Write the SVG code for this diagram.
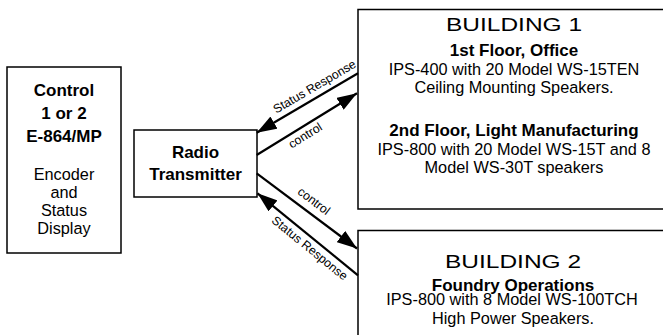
<svg xmlns="http://www.w3.org/2000/svg" width="663" height="335" viewBox="0 0 663 335">
<style>
.box{fill:#fff;stroke:#000;stroke-width:1.5}
.t{font-family:"Liberation Sans",Arial,sans-serif;fill:#000;text-anchor:middle}
.b{font-weight:bold;font-size:17px}
.r{font-size:16.3px}
.h{font-size:18.5px}
.lbl{font-family:"Liberation Sans",Arial,sans-serif;font-size:12.3px;fill:#000;text-anchor:middle}
.ln{stroke:#000;stroke-width:2.2;fill:none;marker-end:url(#ah)}
</style>
<defs>
<marker id="ah" markerUnits="userSpaceOnUse" markerWidth="20" markerHeight="14" refX="20" refY="7" orient="auto">
<path d="M0,0 L20,7 L0,14 z" fill="#000"/>
</marker>
</defs>
<rect width="663" height="335" fill="#fff"/>
<g id="control">
<rect class="box" x="7" y="67" width="114" height="186"/>
<text class="t b" x="64" y="95.5">Control</text>
<text class="t b" x="64" y="118.5">1 or 2</text>
<text class="t b" x="64" y="141.5">E-864/MP</text>
<text class="t r" x="64" y="180">Encoder</text>
<text class="t r" x="64" y="198">and</text>
<text class="t r" x="64" y="216">Status</text>
<text class="t r" x="64" y="234">Display</text>
</g>
<g id="radio">
<rect class="box" x="134" y="130" width="123" height="67"/>
<text class="t b" x="195.5" y="158">Radio</text>
<text class="t b" x="195.5" y="180">Transmitter</text>
</g>
<g id="building1">
<rect class="box" x="358" y="9.5" width="320" height="199.5"/>
<text class="t h" x="514" y="31" textLength="136" lengthAdjust="spacingAndGlyphs">BUILDING 1</text>
<text class="t b" x="514" y="56">1st Floor, Office</text>
<text class="t r" x="514" y="75">IPS-400 with 20 Model WS-15TEN</text>
<text class="t r" x="514" y="93">Ceiling Mounting Speakers.</text>
<text class="t b" x="514" y="136">2nd Floor, Light Manufacturing</text>
<text class="t r" x="514" y="155">IPS-800 with 20 Model WS-15T and 8</text>
<text class="t r" x="514" y="173">Model WS-30T speakers</text>
</g>
<g id="building2">
<rect class="box" x="358" y="230.5" width="320" height="130"/>
<text class="t h" x="513" y="268" textLength="136" lengthAdjust="spacingAndGlyphs">BUILDING 2</text>
<text class="t b" x="513" y="291">Foundry Operations</text>
<text class="t r" x="512" y="305">IPS-800 with 8 Model WS-100TCH</text>
<text class="t r" x="513" y="324">High Power Speakers.</text>
</g>
<g id="connectors">
<line class="ln" x1="358" y1="73.3" x2="256.7" y2="132.7"/>
<line class="ln" x1="256.7" y1="155" x2="357" y2="93.3"/>
<line class="ln" x1="256.7" y1="173.3" x2="357" y2="248.5"/>
<line class="ln" x1="358" y1="275.3" x2="257.5" y2="193.3"/>
<text class="lbl" transform="translate(319.6,95.3) rotate(-30.3)" x="0" y="-6">Status Response</text>
<text class="lbl" transform="translate(300.5,127.9) rotate(-31.7)" x="0" y="13">control</text>
<text class="lbl" transform="translate(306.7,210.8) rotate(36.9)" x="0" y="-8">control</text>
<text class="lbl" transform="translate(316,240.5) rotate(39.2)" x="0" y="14">Status Response</text>
</g>
</svg>
